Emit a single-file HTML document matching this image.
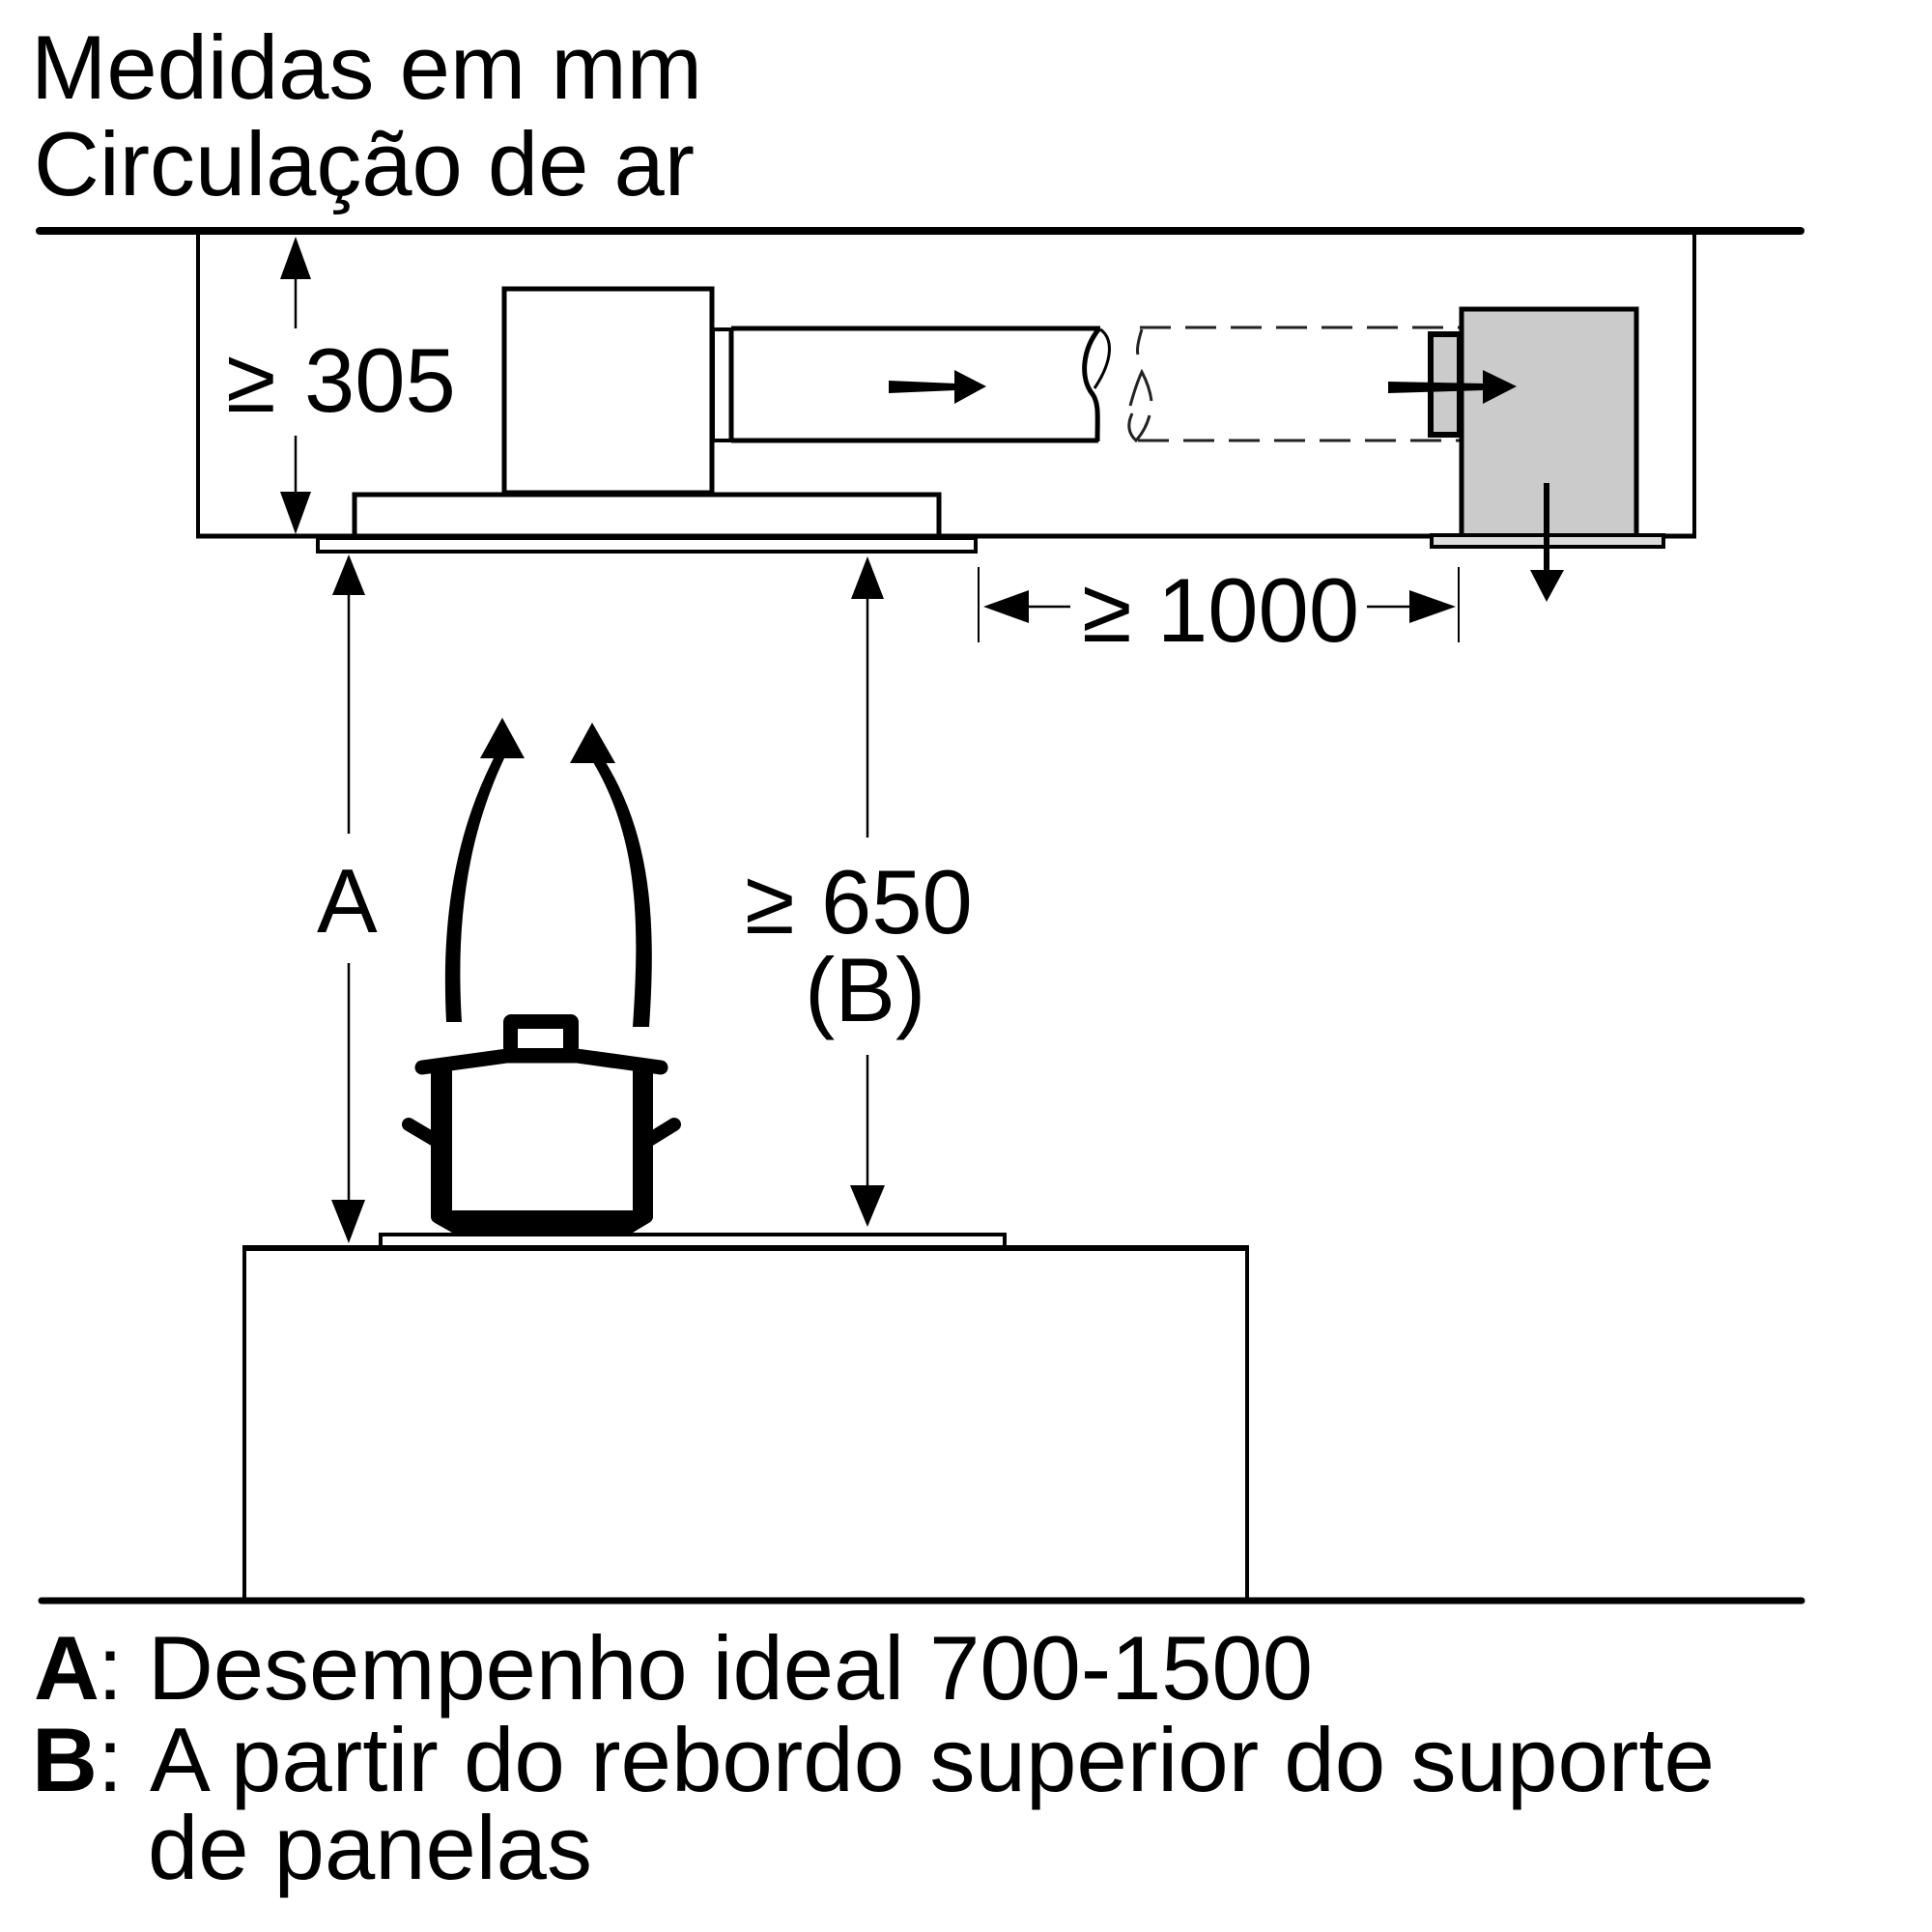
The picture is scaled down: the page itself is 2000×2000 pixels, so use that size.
<!DOCTYPE html>
<html>
<head>
<meta charset="utf-8">
<style>
  html,body{margin:0;padding:0;background:#fff;}
  svg{display:block;}
  text{font-family:"Liberation Sans",Arial,sans-serif;fill:#000;}
</style>
</head>
<body>
<svg width="2000" height="2000" viewBox="0 0 2000 2000" xmlns="http://www.w3.org/2000/svg">
  <rect width="2000" height="2000" fill="#fff"/>

  <!-- Title -->
  <text x="32" y="102" font-size="94" textLength="695" lengthAdjust="spacingAndGlyphs">Medidas em mm</text>
  <text x="35" y="202" font-size="94" textLength="684" lengthAdjust="spacingAndGlyphs">Circulação de ar</text>

  <!-- Ceiling line -->
  <line x1="41" y1="239" x2="1864" y2="239" stroke="#000" stroke-width="8" stroke-linecap="round"/>

  <!-- Ceiling box -->
  <line x1="205" y1="242" x2="205" y2="557" stroke="#000" stroke-width="4"/>
  <line x1="1754" y1="242" x2="1754" y2="557" stroke="#000" stroke-width="4"/>
  <line x1="203" y1="555" x2="1756" y2="555" stroke="#000" stroke-width="5"/>

  <!-- Motor box -->
  <rect x="522" y="299" width="215" height="211" fill="#fff" stroke="#000" stroke-width="5"/>
  <!-- Hood body -->
  <rect x="367" y="512" width="605" height="43" fill="#fff" stroke="#000" stroke-width="5"/>
  <!-- Glass panel -->
  <rect x="329" y="557" width="681" height="14" fill="#fff" stroke="#000" stroke-width="4"/>

  <!-- Duct collar and duct -->
  <rect x="738" y="341" width="19" height="115" fill="#fff" stroke="#000" stroke-width="4"/>
  <line x1="757" y1="340" x2="1139" y2="340" stroke="#000" stroke-width="5"/>
  <line x1="757" y1="456" x2="1137" y2="456" stroke="#000" stroke-width="5"/>
  <line x1="757" y1="340" x2="757" y2="456" stroke="#000" stroke-width="5"/>
  <!-- Duct break -->
  <path d="M1138 340 C1120 362 1118 392 1131 408 C1138 418 1136 432 1136 457" fill="none" stroke="#000" stroke-width="5"/>
  <path d="M1139 341 C1152 350 1153 372 1133 402" fill="none" stroke="#000" stroke-width="3"/>

  <!-- Duct arrow -->
  <polygon points="920,394 990,397 990,404 920,407" fill="#000"/>
  <polygon points="988,383 1021,400 988,418" fill="#000"/>

  <!-- Dashed duct -->
  <line x1="1180" y1="339" x2="1512" y2="339" stroke="#222" stroke-width="3" stroke-dasharray="32 15"/>
  <line x1="1178" y1="456" x2="1512" y2="456" stroke="#222" stroke-width="3" stroke-dasharray="32 15"/>
  <path d="M1182 341 Q1176 360 1178 367" fill="none" stroke="#222" stroke-width="3"/>
  <path d="M1170 420 Q1176 398 1182 385 Q1190 400 1192 415" fill="none" stroke="#222" stroke-width="3"/>
  <path d="M1172 428 Q1164 445 1176 456 Q1186 445 1190 430" fill="none" stroke="#222" stroke-width="3"/>

  <!-- Filter box -->
  <rect x="1513" y="320" width="181" height="235" fill="#cbcbcb" stroke="#000" stroke-width="5"/>
  <rect x="1481" y="346" width="30" height="104" fill="#cbcbcb" stroke="#000" stroke-width="6"/>
  <rect x="1482" y="554" width="240" height="12" fill="#dcdcdc" stroke="#000" stroke-width="4"/>

  <!-- Filter in arrow -->
  <polygon points="1437,395 1537,397 1537,404 1437,407" fill="#000"/>
  <polygon points="1535,383 1570,400 1535,418" fill="#000"/>
  <!-- Filter out arrow -->
  <line x1="1601" y1="500" x2="1601" y2="594" stroke="#000" stroke-width="6"/>
  <polygon points="1584,590 1619,590 1601,623" fill="#000"/>

  <!-- 305 dimension -->
  <line x1="306" y1="285" x2="306" y2="340" stroke="#000" stroke-width="2.5"/>
  <polygon points="306,245 290,289 322,289" fill="#000"/>
  <line x1="306" y1="451" x2="306" y2="512" stroke="#000" stroke-width="2.5"/>
  <polygon points="306,553 290,509 322,509" fill="#000"/>
  <text x="234" y="426" font-size="94">≥</text>
  <text x="315" y="426" font-size="94">305</text>

  <!-- 1000 dimension -->
  <line x1="1013" y1="587" x2="1013" y2="665" stroke="#000" stroke-width="2"/>
  <line x1="1510" y1="587" x2="1510" y2="665" stroke="#000" stroke-width="2"/>
  <polygon points="1018,628 1065,611 1065,645" fill="#000"/>
  <line x1="1062" y1="628" x2="1108" y2="628" stroke="#000" stroke-width="2.5"/>
  <line x1="1415" y1="628" x2="1462" y2="628" stroke="#000" stroke-width="2.5"/>
  <polygon points="1507,628 1459,611 1459,645" fill="#000"/>
  <text x="1120" y="664" font-size="94">≥</text>
  <text x="1198" y="664" font-size="94">1000</text>

  <!-- A dimension -->
  <polygon points="361,574 344,616 378,616" fill="#000"/>
  <line x1="361" y1="612" x2="361" y2="863" stroke="#000" stroke-width="2.5"/>
  <text x="328" y="965" font-size="94">A</text>
  <line x1="361" y1="997" x2="361" y2="1246" stroke="#000" stroke-width="2.5"/>
  <polygon points="343,1242 378,1242 361,1287" fill="#000"/>

  <!-- B / 650 dimension -->
  <polygon points="898,576 881,620 915,620" fill="#000"/>
  <line x1="898" y1="616" x2="898" y2="867" stroke="#000" stroke-width="2.5"/>
  <text x="771" y="966" font-size="94">≥</text>
  <text x="850" y="966" font-size="94">650</text>
  <text x="833" y="1057" font-size="94">(B)</text>
  <line x1="898" y1="1092" x2="898" y2="1231" stroke="#000" stroke-width="2.5"/>
  <polygon points="880,1227 916,1227 898,1270" fill="#000"/>

  <!-- Curved steam arrows -->
  <path d="M462 1058 C457 960 468 870 511 785 L522 785 C482 870 472 960 478 1058 Z" fill="#000"/>
  <polygon points="520,743 497,785 543,785" fill="#000"/>
  <path d="M655 1063 C662 960 662 870 614 789 L627 789 C676 870 679 960 672 1063 Z" fill="#000"/>
  <polygon points="613,748 590,790 637,790" fill="#000"/>

  <!-- Pot -->
  <rect x="446" y="1104" width="22" height="156" fill="#000"/>
  <rect x="655" y="1104" width="21" height="156" fill="#000"/>
  <path d="M446 1253 L676 1253 L676 1260 Q676 1264 670 1267 L655 1276 L468 1276 L452 1267 Q446 1264 446 1260 Z" fill="#000"/>
  <polyline points="437,1105 525,1093 597,1093 684,1105" fill="none" stroke="#000" stroke-width="15" stroke-linecap="round" stroke-linejoin="round"/>
  <rect x="521" y="1050" width="78" height="42" rx="8" fill="#000"/>
  <rect x="536" y="1065" width="47" height="20" fill="#fff"/>
  <line x1="423" y1="1164" x2="450" y2="1180" stroke="#000" stroke-width="14" stroke-linecap="round"/>
  <line x1="672" y1="1180" x2="698" y2="1164" stroke="#000" stroke-width="14" stroke-linecap="round"/>

  <!-- Cooktop and counter -->
  <rect x="394" y="1278" width="646" height="13" fill="#fff" stroke="#000" stroke-width="4"/>
  <rect x="253" y="1292" width="1038" height="366" fill="none" stroke="#000" stroke-width="4"/>
  <line x1="251" y1="1292" x2="1293" y2="1292" stroke="#000" stroke-width="6"/>

  <!-- Floor -->
  <line x1="43" y1="1657" x2="1865" y2="1657" stroke="#000" stroke-width="7" stroke-linecap="round"/>

  <!-- Legend -->
  <text x="35" y="1759" font-size="94" font-weight="bold">A</text>
  <text x="101" y="1759" font-size="94">:</text>
  <text x="153" y="1759" font-size="94" textLength="1206" lengthAdjust="spacingAndGlyphs">Desempenho ideal 700-1500</text>
  <text x="33" y="1854" font-size="94" font-weight="bold">B</text>
  <text x="101" y="1854" font-size="94">:</text>
  <text x="155" y="1854" font-size="94" textLength="1620" lengthAdjust="spacingAndGlyphs">A partir do rebordo superior do suporte</text>
  <text x="153" y="1945" font-size="94">de panelas</text>
</svg>
</body>
</html>
